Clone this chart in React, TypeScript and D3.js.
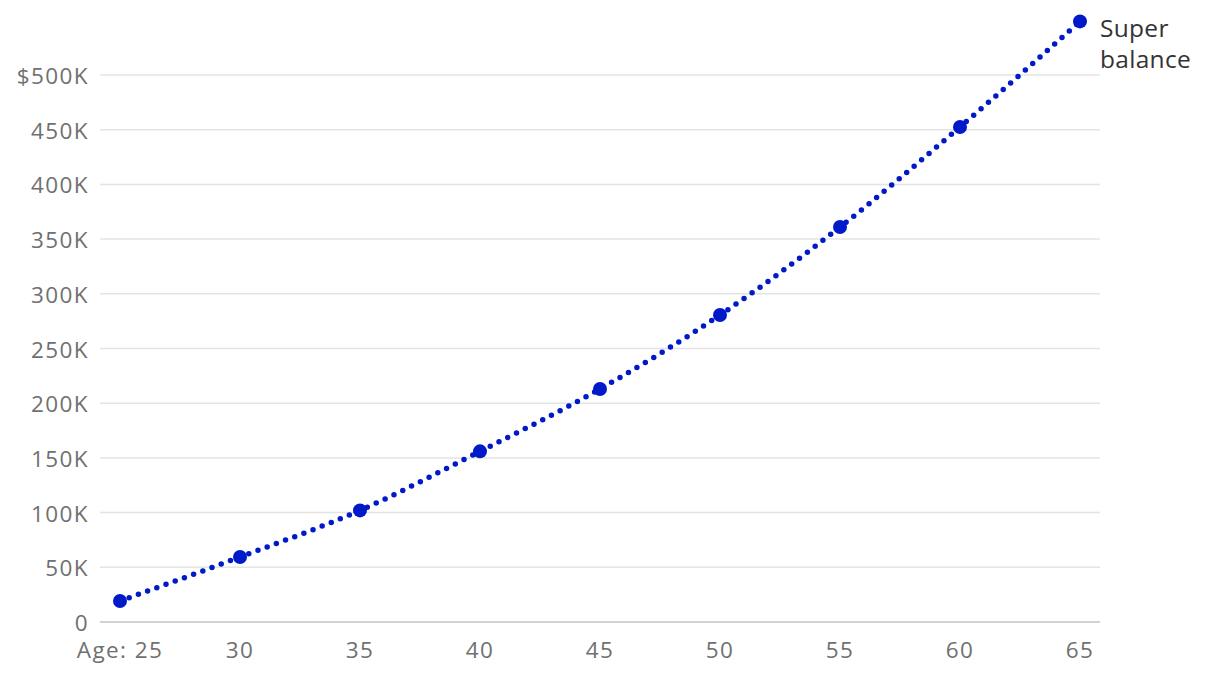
import React from "react";
import * as d3 from "d3";

const ages = [25, 30, 35, 40, 45, 50, 55, 60, 65];
const balances = [19200, 59400, 102000, 156000, 213000, 280600, 361000, 452500, 549000];
const yTicks = [0, 50000, 100000, 150000, 200000, 250000, 300000, 350000, 400000, 450000, 500000];
const xTickLabels = ["Age: 25", "30", "35", "40", "45", "50", "55", "60", "65"];
const seriesLabel = ["Super", "balance"];

const W = 1220;
const H = 676;

export default function App() {
  const x = d3.scaleLinear().domain([25, 65]).range([120, 1080]);
  const y = d3.scaleLinear().domain([0, 500000]).range([622, 75]);
  const fmt = (v: number) => (v === 0 ? "0" : v === 500000 ? "$500K" : `${v / 1000}K`);
  const data = ages.map((a, i) => ({ a, v: balances[i] }));
  const line = d3
    .line<{ a: number; v: number }>()
    .x((d) => x(d.a))
    .y((d) => y(d.v))
    .curve(d3.curveMonotoneX);
  const font = "'Open Sans', sans-serif";
  return (
    <svg
      width={W}
      height={H}
      style={{ position: "absolute", left: 0, top: 0, background: "#fff" }}
      fontFamily={font}
    >
      {yTicks.map((t) => (
        <g key={t}>
          <line
            x1={100}
            x2={1100}
            y1={y(t)}
            y2={y(t)}
            stroke={t === 0 ? "#d2d2d2" : "#e4e4e4"}
            strokeWidth={t === 0 ? 2 : 1.5}
          />
          <text
            x={89}
            y={y(t) + 9}
            textAnchor="end"
            fontSize={22.5}
            letterSpacing={1.4}
            fill="#707070"
          >
            {fmt(t)}
          </text>
        </g>
      ))}
      {ages.map((a, i) => (
        <text
          key={a}
          x={x(a)}
          y={658}
          textAnchor="middle"
          fontSize={22.5}
          letterSpacing={1.4}
          fill="#707070"
        >
          {xTickLabels[i]}
        </text>
      ))}
      <path
        d={line(data) || ""}
        fill="none"
        stroke="#0019c9"
        strokeWidth={5.5}
        strokeLinecap="round"
        strokeDasharray="0 9.8"
      />
      {data.map((d) => (
        <circle key={d.a} cx={x(d.a)} cy={y(d.v)} r={7} fill="#0019c9" />
      ))}
      <text x={1100} y={37} fontSize={24.5} letterSpacing={0.3} fill="#333">
        {seriesLabel[0]}
      </text>
      <text x={1100} y={68} fontSize={24.5} letterSpacing={0.3} fill="#333">
        {seriesLabel[1]}
      </text>
    </svg>
  );
}
